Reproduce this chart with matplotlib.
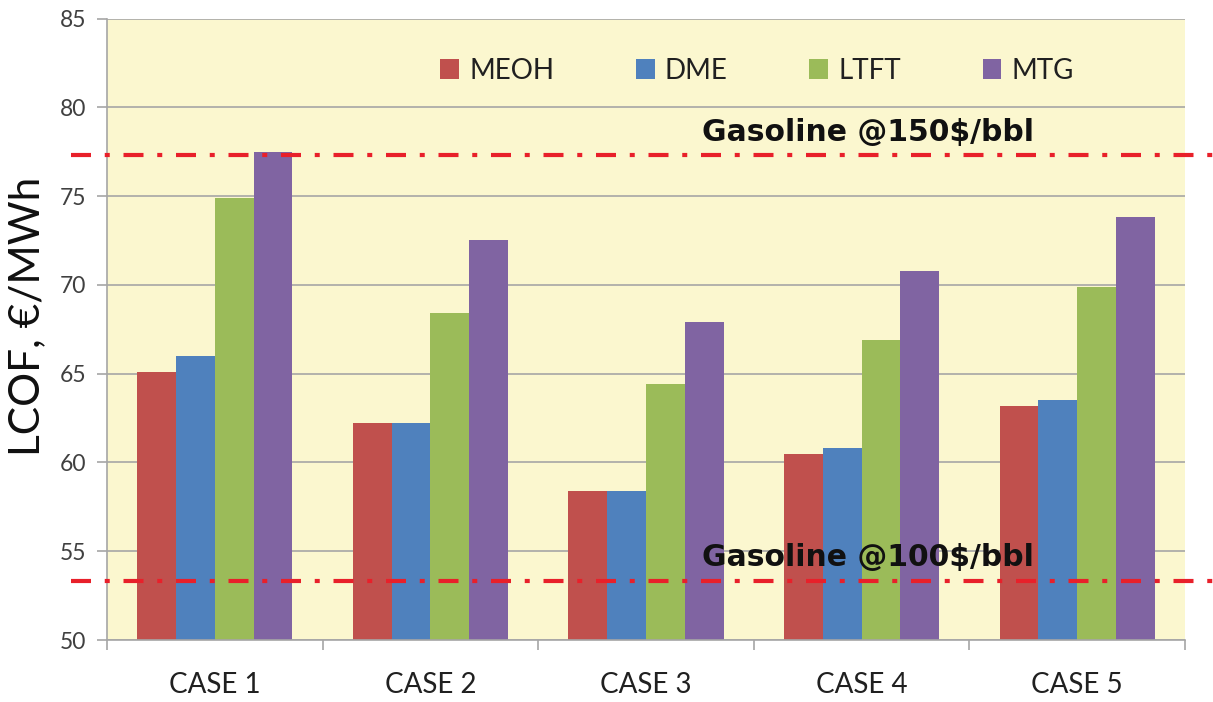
import matplotlib
matplotlib.use("Agg")
import matplotlib.pyplot as plt
import numpy as np
from matplotlib.patches import Patch

plt.rcParams["font.family"] = ["Lato", "DejaVu Sans"]

# Levelized cost of fuel per case and fuel route (EUR/MWh)
cases = ["CASE 1", "CASE 2", "CASE 3", "CASE 4", "CASE 5"]
fuels = ["MEOH", "DME", "LTFT", "MTG"]
meoh = [65.1, 62.2, 58.4, 60.5, 63.2]
dme = [66.0, 62.2, 58.4, 60.8, 63.5]
ltft = [74.9, 68.4, 64.4, 66.9, 69.9]
mtg = [77.5, 72.5, 67.9, 70.8, 73.8]
gasoline_150 = 77.3
gasoline_100 = 53.3

colors = ["#C0504D", "#4F81BD", "#9BBB59", "#8064A2"]
bg = "#FBF7CF"
grid_c = "#A6A6A6"
text_c = "#404040"

fig = plt.figure(figsize=(12.13, 7.02), dpi=100)
ax = fig.add_axes([0.0882, 0.0883, 0.8887, 0.8853])
ax.set_facecolor(bg)

x = np.arange(len(cases))
bar_w = 0.18
series = [meoh, dme, ltft, mtg]
for i, (vals, c) in enumerate(zip(series, colors)):
    ax.bar(x + (i - 1.5) * bar_w, np.array(vals) - 50, bottom=50,
           width=bar_w, color=c, zorder=2, linewidth=0)

ax.set_xlim(-0.5, len(cases) - 0.5)
ax.set_ylim(50, 85)
ax.set_yticks(np.arange(50, 86, 5))
ax.yaxis.grid(True, color=grid_c, linewidth=1.2, zorder=1)
ax.set_axisbelow(True)

ax.set_xticks(x)
ax.set_xticklabels(cases, fontsize=20, color="#202020")
ax.set_xticks(np.arange(-0.5, len(cases)), minor=True)
ax.tick_params(axis="x", which="major", length=0, pad=23)
ax.tick_params(axis="x", which="minor", length=7, width=1.2, color=grid_c)
ax.tick_params(axis="y", length=7, width=1.2, color=grid_c,
               labelsize=16.5, labelcolor=text_c, pad=8)

for side in ["top", "right"]:
    ax.spines[side].set_visible(False)
for side in ["left", "bottom"]:
    ax.spines[side].set_color(grid_c)
    ax.spines[side].set_linewidth(1.2)

ax.set_ylabel("LCOF, €/MWh", fontsize=30.5, color="#101010", va="center")
ax.yaxis.set_label_coords(-0.074, 0.52)

# Gasoline reference prices, drawn past both edges of the axes
dash = (0, (4.8, 3.3, 1.2, 3.3))
for level in [gasoline_150, gasoline_100]:
    ax.axhline(level, xmin=-0.033, xmax=1.026, color="#E8202A",
               linewidth=3, linestyle=dash, clip_on=False, zorder=3)
ax.text(3.03, gasoline_150 + 1.3, "Gasoline @150$/bbl", fontsize=21.5,
        family="DejaVu Sans", fontweight="bold", color="#111111",
        ha="center", va="center", zorder=4)
ax.text(3.03, gasoline_100 + 1.35, "Gasoline @100$/bbl", fontsize=21.5,
        family="DejaVu Sans", fontweight="bold", color="#111111",
        ha="center", va="center", zorder=4)

handles = [Patch(facecolor=c, edgecolor="none") for c in colors]
ax.legend(handles, fuels, loc="center", bbox_to_anchor=(0.603, 0.916),
          ncol=4, frameon=False, fontsize=20, handlelength=0.68,
          handleheight=0.68, handletextpad=0.35, columnspacing=2.95,
          labelcolor="#202020")

fig.savefig("out.png", dpi=100, facecolor="white")
